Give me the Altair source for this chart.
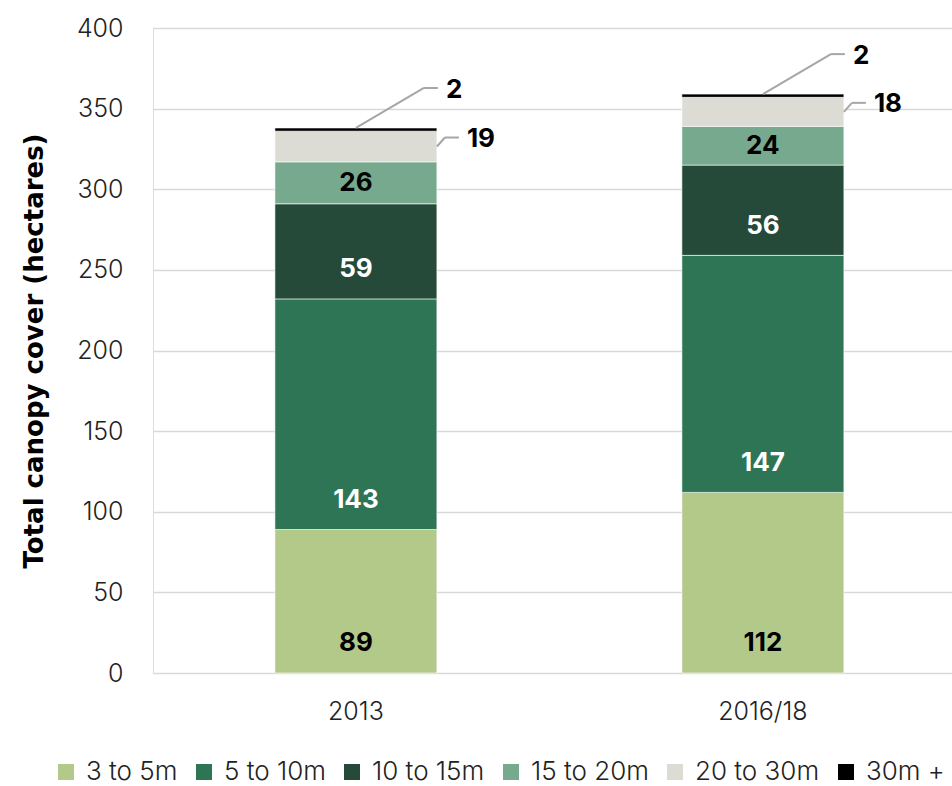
import altair as alt
import pandas as pd

years = ["2013", "2016/18"]
classes = ["3 to 5m", "5 to 10m", "10 to 15m", "15 to 20m", "20 to 30m", "30m +"]
colors = ["#b3c98a", "#2e7556", "#264a39", "#76a98e", "#dddcd4", "#000000"]
values_2013 = [89, 143, 59, 26, 19, 2]
values_2016 = [112, 147, 56, 24, 18, 2]

rows = []
for year, vals in zip(years, [values_2013, values_2016]):
    start = 0
    for i, (c, v) in enumerate(zip(classes, vals)):
        rows.append(dict(year=year, cls=c, order=i, value=v, start=start, end=start + v))
        start += v
df = pd.DataFrame(rows)

FONT = "Inter"
BOLD = "DejaVu Sans"
base = alt.Chart(df).transform_calculate(
    mid="(datum.start + datum.end) / 2",
    lab="datum.start + min(18.5, datum.value / 2)",
)

xenc = alt.X(
    "year:N",
    sort=years,
    bandPosition=0.5,
    scale=alt.Scale(paddingInner=0.602, paddingOuter=0.2826, align=0.53),
    axis=alt.Axis(title=None, labelAngle=0, labelFontSize=25, labelFont=FONT,
                  labelFontWeight=300, labelColor="#222222", labelPadding=26,
                  domain=False, ticks=False),
)
x2enc = alt.X2("year", bandPosition=0.5)

bars = base.mark_bar(stroke="white", strokeWidth=0.6).encode(
    x=xenc,
    y=alt.Y(
        "start:Q",
        scale=alt.Scale(domain=[0, 400]),
        axis=alt.Axis(
            values=list(range(0, 401, 50)),
            title="Total canopy cover (hectares)",
            titleFont=BOLD, titleFontSize=26, titleFontWeight="bold",
            titleColor="#000000", titlePadding=29,
            labelFont=FONT, labelFontSize=25, labelFontWeight=300,
            labelColor="#222222", labelPadding=30,
            domain=False, ticks=False,
            gridColor="#d9d9d9", gridWidth=1.5,
        ),
    ),
    y2="end:Q",
    color=alt.Color(
        "cls:N",
        sort=classes,
        scale=alt.Scale(domain=classes, range=colors),
        legend=alt.Legend(
            title=None, orient="none", direction="horizontal", columns=6,
            legendX=-100, legendY=731,
            symbolType="square", symbolSize=256, symbolStrokeWidth=0,
            labelFont=FONT, labelFontSize=26, labelFontWeight=300,
            labelColor="#222222", labelOffset=7, columnPadding=13,
        ),
    ),
    order=alt.Order("order:Q"),
)

inside = base.transform_filter("datum.order <= 3").mark_text(
    font=FONT, fontSize=26, fontWeight="bold", baseline="middle"
).encode(
    x=xenc,
    y=alt.Y("lab:Q"),
    text=alt.Text("value:Q"),
    color=alt.condition(
        "datum.order == 1 || datum.order == 2", alt.value("white"), alt.value("black")
    ),
)

LEAD = "#a6a6a6"
top_diag = base.transform_filter("datum.order == 5").mark_rule(
    color=LEAD, strokeWidth=2, x2Offset=68, y2Offset=-40
).encode(x=xenc, x2=x2enc, y="end:Q", y2="end:Q")
top_h = base.transform_filter("datum.order == 5").mark_rule(
    color=LEAD, strokeWidth=2, xOffset=68, x2Offset=82, yOffset=-40, y2Offset=-40
).encode(x=xenc, x2=x2enc, y="end:Q", y2="end:Q")
top_txt = base.transform_filter("datum.order == 5").mark_text(
    font=FONT, fontSize=26, fontWeight="bold", align="left", baseline="middle",
    dx=90, dy=-38, color="black"
).encode(x=xenc, y="end:Q", text="value:Q")

mid_diag = base.transform_filter("datum.order == 4").mark_rule(
    color=LEAD, strokeWidth=2, xOffset=81, x2Offset=89, y2Offset=-9
).encode(x=xenc, x2=x2enc, y="mid:Q", y2="mid:Q")
mid_h = base.transform_filter("datum.order == 4").mark_rule(
    color=LEAD, strokeWidth=2, xOffset=89, x2Offset=103, yOffset=-9, y2Offset=-9
).encode(x=xenc, x2=x2enc, y="mid:Q", y2="mid:Q")
mid_txt = base.transform_filter("datum.order == 4").mark_text(
    font=FONT, fontSize=26, fontWeight="bold", align="left", baseline="middle",
    dx=111, dy=-8, color="black"
).encode(x=xenc, y="mid:Q", text="value:Q")

chart = alt.layer(
    bars, inside, top_diag, top_h, top_txt, mid_diag, mid_h, mid_txt
).properties(
    width=799,
    height=645,
    autosize="none",
    padding={"left": 153, "top": 28, "right": 0, "bottom": 113},
).configure_view(stroke=None).configure(background="white")

chart.save("out.html", embed_options={"renderer": "svg", "actions": False})
